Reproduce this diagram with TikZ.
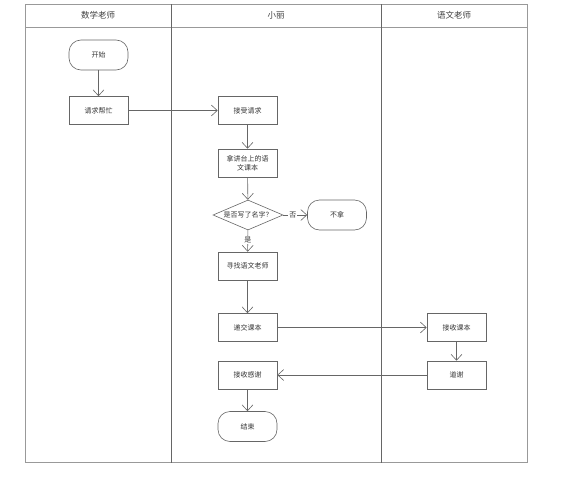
\documentclass[tikz,border=0pt]{standalone}
\usepackage{fontspec}
\newfontfamily\cjk{Noto Sans CJK SC}
\usetikzlibrary{arrows.meta,shapes.geometric}

\begin{document}
\begin{tikzpicture}[x=1pt,y=-1pt,
    lane/.style={draw=black!40,line width=0.9pt},
    divider/.style={draw=black!60,line width=0.9pt},
    head/.style={font=\cjk\fontsize{8.5}{10}\selectfont,text=black!75},
    box/.style={draw=black!60,line width=0.6pt,minimum width=59pt,minimum height=28pt,inner sep=1pt,
      font=\cjk\fontsize{7}{9}\selectfont,text=black!80,align=center},
    term/.style={box,rounded corners=12pt,minimum height=30pt},
    decide/.style={draw=black!60,line width=0.6pt,diamond,aspect=2.33,inner sep=0pt,
      minimum width=70pt,minimum height=30pt,font=\cjk\fontsize{7}{9}\selectfont,text=black!80},
    lbl/.style={fill=white,inner sep=1pt,font=\cjk\fontsize{7}{9}\selectfont,text=black!80}]
  \useasboundingbox (0,0) rectangle (565,479);
  % lanes
  \draw[lane] (25,4) rectangle (527.5,462.5);
  \draw[lane] (25,27) -- (527.5,27);
  \draw[divider] (171,4) -- (171,462.5);
  \draw[divider] (381,4) -- (381,462.5);
  \node[head] (h1) at (98,15.5) {数学老师};
  \node[head] (h2) at (276,15.5) {小丽};
  \node[head] (h3) at (454,15.5) {语文老师};
  % steps
  \node[term] (start) at (98.5,55) {开始};
  \node[box] (ask) at (98.5,110.5) {请求帮忙};
  \node[box] (accept) at (247.5,110.5) {接受请求};
  \node[box] (take) at (247.5,163) {拿讲台上的语\\文课本};
  \node[decide] (check) at (248,215) {是否写了名字？};
  \node[term] (skip) at (337,215) {不拿};
  \node[box] (find) at (247.5,266) {寻找语文老师};
  \node[box] (hand) at (247.5,327.5) {递交课本};
  \node[box] (receive) at (456.5,327.5) {接收课本};
  \node[box] (thank) at (456.5,375) {道谢};
  \node[box] (thanked) at (247.5,375) {接收感谢};
  \node[term] (stop) at (247.5,426.5) {结束};
  \path[draw=black!60,line width=0.6pt,-{Straight Barb[length=6pt,width=11pt]}]
    (start) edge (ask)
    (ask) edge (accept)
    (accept) edge (take)
    (take) edge (check)
    (check) edge node[lbl,pos=0.4] {否} (skip)
            edge node[lbl,pos=0.45] {是} (find)
    (find) edge (hand)
    (hand) edge (receive)
    (receive) edge (thank)
    (thank) edge (thanked)
    (thanked) edge (stop);
\end{tikzpicture}
\end{document}
